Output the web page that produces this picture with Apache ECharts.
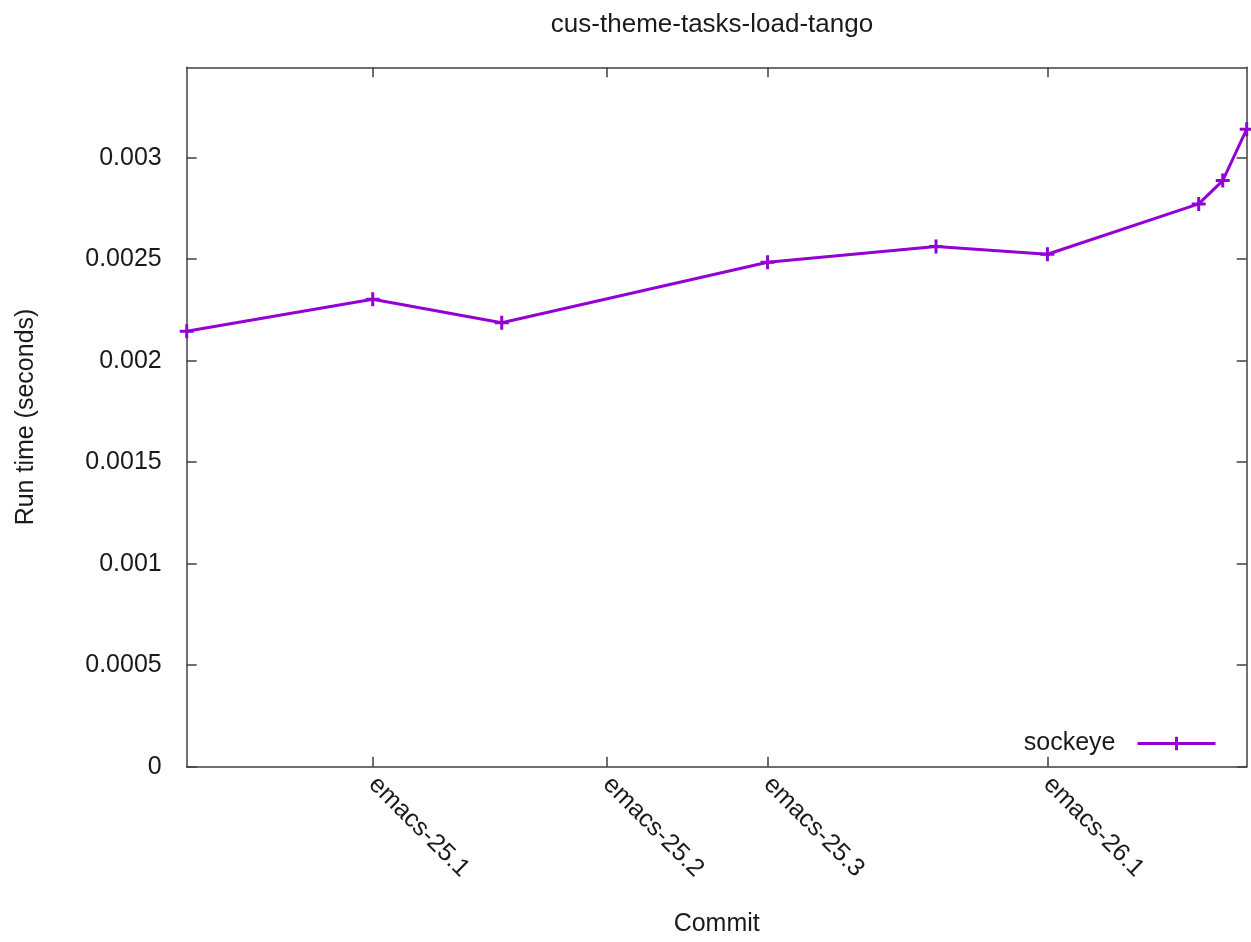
<!DOCTYPE html>
<html>
<head>
<meta charset="utf-8">
<script src="https://cdn.jsdelivr.net/npm/echarts@6/dist/echarts.min.js"></script>
<style>
html,body{margin:0;padding:0;background:#fff;}
#chart{width:1251px;height:942px;}
</style>
</head>
<body>
<div id="chart"></div>
<script>
// Commit position (relative scale 0..100) and run time in seconds
const commitPos = [0, 17.55, 29.72, 54.8, 70.69, 81.2, 95.47, 97.74, 100];
const runTime = [0.002145, 0.002302, 0.002187, 0.002485, 0.002562, 0.002524, 0.002772, 0.002887, 0.00314];
const xTickPos = [17.55, 39.65, 54.8, 81.2];
const xTickLabels = ['emacs-25.1', 'emacs-25.2', 'emacs-25.3', 'emacs-26.1'];
const yTickValues = [0, 0.0005, 0.001, 0.0015, 0.002, 0.0025, 0.003];
const yTickLabels = ['0', '0.0005', '0.001', '0.0015', '0.002', '0.0025', '0.003'];
const seriesName = 'sockeye';

const FONT = 'Liberation Sans, Arial, sans-serif';
const TXT = '#1a1a1a';
const AX = '#404040';
const PURPLE = '#9400D3';

const chart = echarts.init(document.getElementById('chart'), null, {renderer: 'canvas'});
const plusPath = 'path://M0,6H12M6,0V12';

const commonAxisLine = {show: true, onZero: false, lineStyle: {color: AX, width: 1.5}};
const tickStyle = {color: AX, width: 1.5};

chart.setOption({
  backgroundColor: '#ffffff',
  animation: false,
  title: {
    text: 'cus-theme-tasks-load-tango',
    left: 707, top: 7, textAlign: 'center',
    textStyle: {fontFamily: FONT, fontSize: 26, fontWeight: 'normal', color: TXT}
  },
  grid: {left: 186.7, right: 4.3, top: 67.3, bottom: 175.3, containLabel: false},
  legend: {
    show: true,
    data: [seriesName],
    right: 29, top: 726,
    align: 'right',
    itemWidth: 78, itemHeight: 17,
    itemStyle: {color: PURPLE, borderColor: PURPLE, borderWidth: 3},
    lineStyle: {color: PURPLE, width: 3},
    textStyle: {fontFamily: FONT, fontSize: 25, color: TXT, padding: [0, 17, 0, 0]}
  },
  xAxis: [{
    type: 'value', position: 'bottom', min: 0, max: 100,
    name: 'Commit', nameLocation: 'middle', nameGap: 145,
    nameTextStyle: {fontFamily: FONT, fontSize: 25, color: TXT},
    axisLine: commonAxisLine,
    splitLine: {show: false},
    axisTick: {show: true, inside: true, length: 10, customValues: xTickPos, lineStyle: tickStyle},
    axisLabel: {
      show: true, customValues: xTickPos, rotate: -45, margin: 14,
      fontFamily: FONT, fontSize: 25, color: TXT,
      formatter: function (v) { const i = xTickPos.indexOf(v); return i >= 0 ? xTickLabels[i] : ''; }
    }
  }, {
    type: 'value', position: 'top', min: 0, max: 100,
    axisLine: commonAxisLine, splitLine: {show: false},
    axisTick: {show: true, inside: true, length: 10, customValues: xTickPos, lineStyle: tickStyle},
    axisLabel: {show: false}
  }],
  yAxis: [{
    type: 'value', position: 'left', min: 0, max: 0.003445,
    name: 'Run time (seconds)', nameLocation: 'middle', nameGap: 148, nameRotate: 90,
    nameTextStyle: {fontFamily: FONT, fontSize: 25, color: TXT},
    axisLine: commonAxisLine, splitLine: {show: false},
    axisTick: {show: true, inside: true, length: 10, customValues: yTickValues, lineStyle: tickStyle},
    axisLabel: {
      show: true, customValues: yTickValues, margin: 25,
      fontFamily: FONT, fontSize: 25, color: TXT,
      formatter: function (v) { const i = yTickValues.indexOf(v); return i >= 0 ? yTickLabels[i] : ''; }
    }
  }, {
    type: 'value', position: 'right', min: 0, max: 0.003445,
    axisLine: commonAxisLine, splitLine: {show: false},
    axisTick: {show: true, inside: true, length: 10, customValues: yTickValues, lineStyle: tickStyle},
    axisLabel: {show: false}
  }],
  series: [{
    name: seriesName,
    type: 'line',
    xAxisIndex: 0, yAxisIndex: 0,
    data: commitPos.map((x, i) => [x, runTime[i]]),
    symbol: plusPath,
    symbolSize: 14,
    showAllSymbol: true,
    clip: false,
    lineStyle: {color: PURPLE, width: 3},
    itemStyle: {color: PURPLE, borderColor: PURPLE, borderWidth: 3}
  }]
});
</script>
</body>
</html>
